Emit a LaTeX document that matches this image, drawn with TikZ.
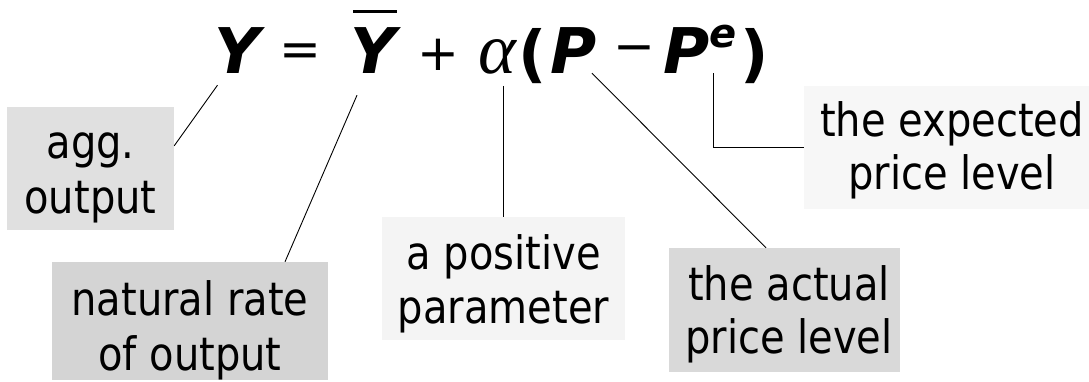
\documentclass[tikz,border=0pt]{standalone}
\usepackage{fontspec}
\setmainfont{DejaVu Sans}[FakeStretch=0.87]
\newfontfamily\eqfont{DejaVu Sans}
\newfontfamily\grfont{Liberation Serif}
\usetikzlibrary{calc}
\definecolor{cagg}{gray}{0.878}
\definecolor{cnat}{gray}{0.83}
\definecolor{cpos}{gray}{0.957}
\definecolor{cact}{gray}{0.851}
\definecolor{cexp}{gray}{0.969}
\begin{document}
\begin{tikzpicture}[x=1pt,y=-1pt,
  box/.style={inner sep=0pt, draw=none},
  lbl/.style={font=\fontsize{46}{55}\selectfont, inner sep=0pt, anchor=base},
  eqsym/.style={font=\eqfont\bfseries\itshape\fontsize{63}{70}\selectfont, inner sep=0pt, anchor=base},
  op/.style={font=\eqfont\fontsize{50}{60}\selectfont, inner sep=0pt},
  paren/.style={font=\eqfont\bfseries\fontsize{62}{70}\selectfont, inner sep=0pt},
  conn/.style={line width=0.9pt, black}]
\useasboundingbox (0,0) rectangle (1089,381);

% boxes
\node[box, fill=cagg, minimum width=167pt, minimum height=123pt] (agg) at (90.5,168.5) {};
\node[box, fill=cnat, minimum width=276pt, minimum height=118pt] (nat) at (190,321) {};
\node[box, fill=cpos, minimum width=243pt, minimum height=123pt] (pos) at (503.5,278.5) {};
\node[box, fill=cact, minimum width=231pt, minimum height=124pt] (act) at (784.5,310) {};
\node[box, fill=cexp, minimum width=285pt, minimum height=123pt] (exp) at (946.5,147.5) {};

% label texts
\node[lbl] (agg1) at (90.5,158) {agg.};
\node[lbl] (agg2) at (90.5,213) {output};
\node[lbl] (nat1) at (190,315) {natural rate};
\node[lbl] (nat2) at (190,370) {of output};
\node[lbl] (pos1) at (503.5,269) {a positive};
\node[lbl] (pos2) at (503.5,323) {parameter};
\node[lbl] (act1) at (789,300) {the actual};
\node[lbl] (act2) at (789,353) {price level};
\node[lbl] (exp1) at (952,136) {the expected};
\node[lbl] (exp2) at (952,189) {price level};

% equation
\node[eqsym] (Y) at (237.5,73) {Y};
\node[op] (eq) at (300,55) {=};
\node[eqsym] (Ybar) at (373,73) {Y};
\node[op] (plus) at (438,55) {+};
\node[inner sep=0pt, anchor=base, font=\grfont\itshape\fontsize{72}{80}\selectfont] (alpha) at (497.5,73) {α};
\node[paren] (lp) at (532.5,56.5) {(};
\node[eqsym] (P) at (573.5,73) {P};
\node[op] (minus) at (634,55) {−};
\node[eqsym] (Pe) at (687,73) {P};
\node[eqsym, font=\eqfont\bfseries\itshape\fontsize{40}{44}\selectfont] (sup) at (723,47) {e};
\node[paren] (rp) at (755,56.5) {)};
\draw[line width=3pt] ($(Ybar.north)+(-20,-15)$) -- ++(44,0);

% connectors
\draw[conn] ($(Y.south)+(-20,12)$) -- ($(agg.north east)+(0,39)$);
\draw[conn] ($(Ybar.south)+(-16,22)$) -- ($(nat.north)+(95,0)$);
\coordinate (a1) at ($(alpha.south)+(5.5,12)$);
\draw[conn] (a1) -- (a1 |- pos.north);
\draw[conn] ($(P.south)+(18.5,0)$) -- ($(act.north)+(-18.5,0)$);
\coordinate (p1) at ($(Pe.south)+(26,0)$);
\draw[conn] (p1) |- (exp.west);
\end{tikzpicture}
\end{document}
